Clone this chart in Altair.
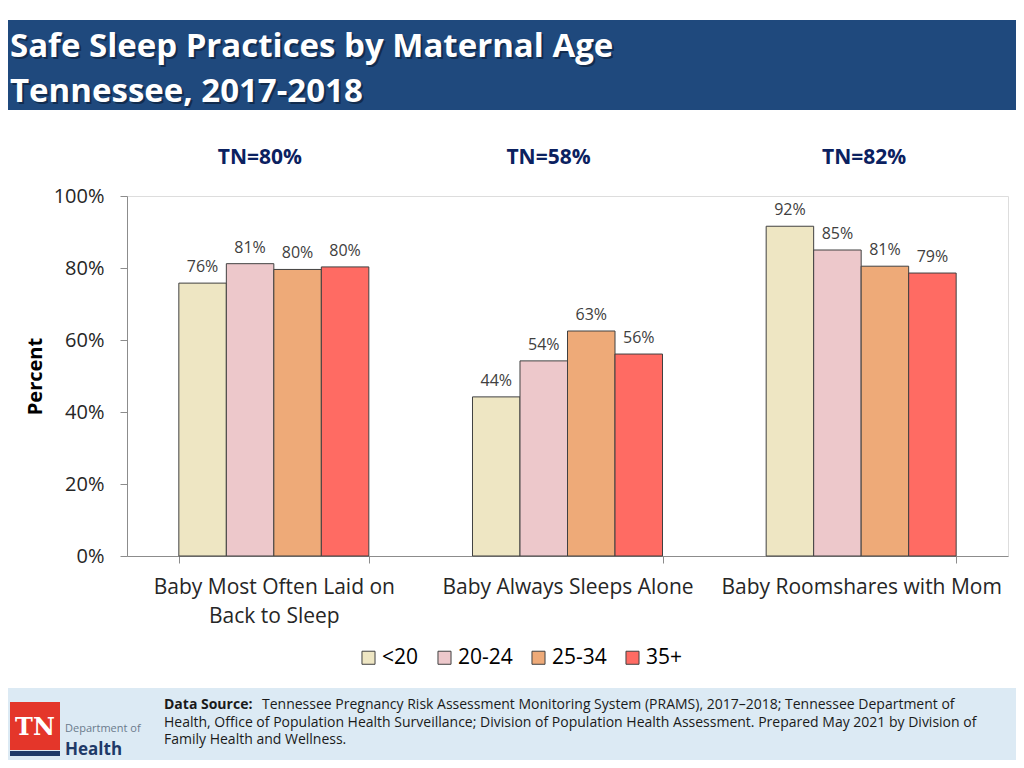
import altair as alt
import pandas as pd

categories = ["Baby Most Often Laid on Back to Sleep", "Baby Always Sleeps Alone", "Baby Roomshares with Mom"]
ages = ["<20", "20-24", "25-34", "35+"]
v_lt20 = [75.8, 44.2, 91.6]
v_2024 = [81.2, 54.2, 85.0]
v_2534 = [79.6, 62.5, 80.5]
v_35 = [80.3, 56.1, 78.6]
tn_labels = ["TN=80%", "TN=58%", "TN=82%"]
colors = ["#EEE6C3", "#EDC8CB", "#EEAA78", "#FF6B63"]

title1 = "Safe Sleep Practices by Maternal Age"
title2 = "Tennessee, 2017-2018"
src_bold = "Data Source:"
src1 = "Tennessee Pregnancy Risk Assessment Monitoring System (PRAMS), 2017\u20132018; Tennessee Department of"
src2 = "Health, Office of Population Health Surveillance; Division of Population Health Assessment.  Prepared May 2021 by Division of"
src3 = "Family Health and Wellness."

rows = []
for i, c in enumerate(categories):
    for a, vals in zip(ages, [v_lt20, v_2024, v_2534, v_35]):
        rows.append({"category": c, "age": a, "value": vals[i]})
df = pd.DataFrame(rows)

FONT = "Open Sans"
dummy = alt.Data(values=[{"a": 1}])

x_enc = alt.X("category:N", sort=categories,
              scale=alt.Scale(paddingInner=0.353, paddingOuter=0.1765),
              axis=alt.Axis(title=None, tickBand="extent", labelAngle=0, labelLimit=0,
                            labelExpr="datum.value == 'Baby Most Often Laid on Back to Sleep' ? ['Baby Most Often Laid on', 'Back to Sleep'] : datum.value",
                            labelFontSize=21, labelFont=FONT, labelColor="#262626",
                            labelPadding=13, labelLineHeight=29,
                            domainColor="#8c8c8c", tickColor="#8c8c8c", tickSize=7))
xo_enc = alt.XOffset("age:N", sort=ages, scale=alt.Scale(paddingInner=0, paddingOuter=0))
y_enc = alt.Y("value:Q", scale=alt.Scale(domain=[0, 100]),
              axis=alt.Axis(title="Percent", values=[0, 20, 40, 60, 80, 100],
                            labelExpr="datum.value + '%'", grid=False,
                            labelFontSize=20, labelFont=FONT, labelColor="#262626",
                            labelPadding=16, tickSize=7,
                            domainColor="#8c8c8c", tickColor="#8c8c8c",
                            titleFont=FONT, titleFontSize=20, titleFontWeight="bold",
                            titleColor="#000000", titlePadding=8))

bars = alt.Chart(df).mark_bar(stroke="#404040", strokeWidth=1).encode(
    x=x_enc, xOffset=xo_enc, y=y_enc,
    color=alt.Color("age:N", sort=ages, scale=alt.Scale(domain=ages, range=colors),
                    legend=alt.Legend(title=None, orient="none", legendX=231, legendY=451,
                                      direction="horizontal", symbolType="square",
                                      symbolSize=170, symbolStrokeColor="#404040",
                                      symbolStrokeWidth=1, labelFont=FONT, labelFontSize=21,
                                      labelColor="#000000", labelOffset=3, columnPadding=15,
                                      padding=0))
)

labels = alt.Chart(df).transform_calculate(
    label="format(round(datum.value), 'd') + '%'"
).mark_text(baseline="bottom", dy=-8, fontSize=16, font=FONT, color="#404040").encode(
    x=alt.X("category:N", sort=categories), xOffset=alt.XOffset("age:N", sort=ages),
    y="value:Q", text="label:N"
)

tn_layers = []
tn_df = pd.DataFrame({"category": categories, "tn": tn_labels})
for i, dx in enumerate([-14, -19, 3]):
    tn_layers.append(
        alt.Chart(tn_df.iloc[[i]]).mark_text(font=FONT, fontSize=21, fontWeight="bold",
                                             color="#0B2160", baseline="middle", dx=dx).encode(
            x=alt.X("category:N", sort=categories), y=alt.value(-38), text="tn:N")
    )

def rect(x1, x2, y1, y2, color):
    return alt.Chart(dummy).mark_rect(color=color).encode(
        x=alt.value(x1), x2=alt.value(x2), y=alt.value(y1), y2=alt.value(y2))

def txt(s, x, y, **kw):
    return alt.Chart(dummy).mark_text(align="left", baseline="alphabetic", **kw).encode(
        x=alt.value(x), y=alt.value(y), text=alt.value(s))

TS = 33
banner = rect(-119, 889, -176, -86, "#1F497D")
t_shadow1 = txt(title1, -115, -137, font=FONT, fontSize=TS, fontWeight="bold", color="#0a1a30", opacity=0.6)
t_shadow2 = txt(title2, -115, -92, font=FONT, fontSize=TS, fontWeight="bold", color="#0a1a30", opacity=0.6)
t1 = txt(title1, -117, -139, font=FONT, fontSize=TS, fontWeight="bold", color="#ffffff")
t2 = txt(title2, -117, -94, font=FONT, fontSize=TS, fontWeight="bold", color="#ffffff")

footer = rect(-119, 889, 492, 564, "#DCEAF4")
f0 = txt(src_bold, 37, 513, font=FONT, fontSize=14, fontWeight="bold", color="#1a1a1a")
f1 = txt(src1, 135, 513, font=FONT, fontSize=14, color="#1a1a1a")
f2 = txt(src2, 37, 531, font=FONT, fontSize=14, color="#1a1a1a")
f3 = txt(src3, 37, 548, font=FONT, fontSize=14, color="#1a1a1a")

logo_red = rect(-117, -67, 506, 554, "#E4362A")
logo_blue = rect(-117, -67, 555, 560, "#1F3A68")
logo_tn = alt.Chart(dummy).mark_text(align="center", baseline="alphabetic", font="DejaVu Serif",
                                     fontSize=24, fontWeight="bold", color="#ffffff").encode(
    x=alt.value(-92), y=alt.value(539), text=alt.value("TN"))
logo_dep = txt("Department of", -62, 536, font=FONT, fontSize=11, color="#6b7b8c")
logo_health = txt("Health", -62, 559, font=FONT, fontSize=17, fontWeight="bold", color="#1F3A68")

chart = alt.layer(
    banner, t_shadow1, t_shadow2, t1, t2, footer, f0, f1, f2, f3,
    logo_red, logo_blue, logo_tn, logo_dep, logo_health,
    bars, labels, *tn_layers
).properties(
    width=881, height=360,
    autosize=alt.AutoSizeParams(type="none"),
    padding={"left": 119, "top": 188, "right": 8, "bottom": 204},
).configure_view(stroke=None).configure(background="#ffffff")

chart.save("out.html", embed_options={"renderer": "svg", "actions": False})
